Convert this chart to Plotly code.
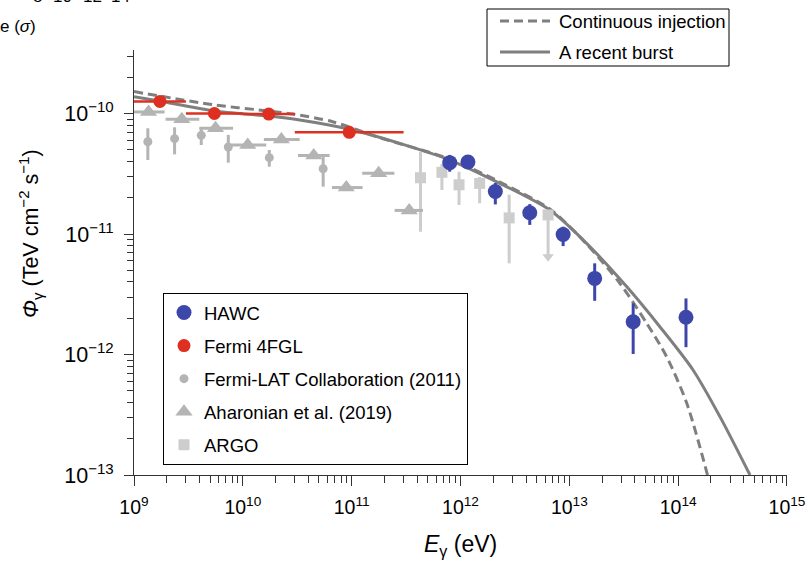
import plotly.graph_objects as go

# ---------------- data ----------------
burst_E = [1.0e9, 1.71e9, 5.46e9, 1.71e10, 3.33e10, 9.33e10, 2.96e11, 7.96e11, 2.30e12,
           6.62e12, 1.44e13, 3.36e13, 6.79e13, 1.37e14, 2.42e14, 4.57e14]
burst_F = [1.38e-10, 1.27e-10, 1.05e-10, 9.53e-11, 8.83e-11, 7.43e-11, 5.54e-11, 4.11e-11,
           2.63e-11, 1.58e-11, 8.37e-12, 3.66e-12, 1.70e-12, 7.44e-13, 3.05e-13, 1.0e-13]

cont_E = [1.0e9, 5.46e9, 1.71e10, 2.86e10, 6.68e10, 1.81e11, 7.96e11, 2.30e12, 6.62e12,
          1.44e13, 2.91e13, 5.13e13, 7.83e13, 1.20e14, 1.86e14]
cont_F = [1.52e-10, 1.18e-10, 1.05e-10, 9.91e-11, 8.55e-11, 6.30e-11, 4.19e-11, 2.70e-11,
          1.61e-11, 8.26e-12, 3.90e-12, 1.82e-12, 9.6e-13, 3.94e-13, 1.0e-13]

hawc_E = [7.96e11, 1.17e12, 2.09e12, 4.33e12, 8.77e12, 1.71e13, 3.86e13, 1.18e14]
hawc_F = [3.91e-11, 3.96e-11, 2.25e-11, 1.50e-11, 9.91e-12, 4.28e-12, 1.87e-12, 2.04e-12]
hawc_lo = [3.29e-11, 3.53e-11, 1.76e-11, 1.19e-11, 7.94e-12, 2.79e-12, 1.01e-12, 1.15e-12]
hawc_hi = [4.53e-11, 4.36e-11, 2.65e-11, 1.77e-11, 1.15e-11, 5.71e-12, 2.66e-12, 2.92e-12]

fgl_E = [1.73e9, 5.48e9, 1.73e10, 9.5e10]
fgl_Elo = [1.0e9, 3.0e9, 1.0e10, 3.0e10]
fgl_Ehi = [3.0e9, 1.0e10, 3.0e10, 3.0e11]
fgl_F = [1.26e-10, 1.00e-10, 0.99e-10, 6.98e-11]
fgl_lo = [1.20e-10, 0.95e-10, 0.94e-10, 6.6e-11]
fgl_hi = [1.32e-10, 1.05e-10, 1.04e-10, 7.4e-11]

lat_E = [1.34e9, 2.36e9, 4.15e9, 7.35e9, 1.75e10, 5.47e10]
lat_F = [5.83e-11, 6.18e-11, 6.59e-11, 5.27e-11, 4.30e-11, 3.48e-11]
lat_lo = [4.11e-11, 4.58e-11, 5.48e-11, 3.91e-11, 3.62e-11, 2.47e-11]
lat_hi = [7.54e-11, 7.68e-11, 7.54e-11, 6.64e-11, 4.98e-11, 4.38e-11]

aha_E = [1.36e9, 2.75e9, 5.61e9, 1.11e10, 2.26e10, 4.48e10, 8.93e10, 1.77e11, 3.38e11]
aha_Elo = [1.0e9, 1.95e9, 3.98e9, 7.83e9, 1.56e10, 3.21e10, 6.59e10, 1.25e11, 2.48e11]
aha_Ehi = [1.91e9, 3.98e9, 8.13e9, 1.64e10, 3.33e10, 6.27e10, 1.26e11, 2.47e11, 4.52e11]
aha_F = [1.03e-10, 8.95e-11, 7.53e-11, 5.48e-11, 6.08e-11, 4.48e-11, 2.43e-11, 3.19e-11, 1.57e-11]

argo_E = [4.29e11, 6.75e11, 9.70e11, 1.50e12, 2.80e12, 6.38e12]
argo_F = [2.93e-11, 3.25e-11, 2.56e-11, 2.63e-11, 1.36e-11, 1.44e-11]
argo_lo = [1.045e-11, 2.32e-11, 1.74e-11, 1.80e-11, 5.71e-12, 6.49e-12]
argo_hi = [4.82e-11, 3.81e-11, 3.29e-11, 2.97e-11, 2.12e-11, 1.44e-11]
argo_ul_E = [6.38e12]
argo_ul_F = [6.49e-12]

x_tick_vals = [1e9, 1e10, 1e11, 1e12, 1e13, 1e14, 1e15]
x_tick_text = ["10<sup>9</sup>", "10<sup>10</sup>", "10<sup>11</sup>", "10<sup>12</sup>",
               "10<sup>13</sup>", "10<sup>14</sup>", "10<sup>15</sup>"]
y_tick_vals = [1e-13, 1e-12, 1e-11, 1e-10]
y_tick_text = ["10<sup>−13</sup>", "10<sup>−12</sup>", "10<sup>−11</sup>", "10<sup>−10</sup>"]

curve_names = ["Continuous injection", "A recent burst"]
cut_labels = ["8", "10", "12", "14"]

# ---------------- styles ----------------
FONT = "Liberation Sans, Arial, Helvetica, sans-serif"
CURVE = "#7f7f7f"
BLUE = "#3d47a9"
RED = "#dd3020"
GRAY_LAT = "#b4b4b4"
GRAY_AHA = "#b4b4b4"
GRAY_ARGO = "#cdcdcd"
DASH = "9px,5px"


def plus(v, hi):
    return [h - a for a, h in zip(v, hi)]


def minus(v, lo):
    return [a - l for a, l in zip(v, lo)]


fig = go.Figure()

# model curves
fig.add_trace(go.Scatter(
    x=cont_E, y=cont_F, mode="lines", name=curve_names[0], showlegend=False,
    line=dict(color=CURVE, width=3, dash=DASH, shape="spline", smoothing=0.8)))
fig.add_trace(go.Scatter(
    x=burst_E, y=burst_F, mode="lines", name=curve_names[1], showlegend=False,
    line=dict(color=CURVE, width=3, shape="spline", smoothing=0.8)))

# ARGO
fig.add_trace(go.Scatter(
    x=argo_E, y=argo_F, mode="markers", name="ARGO",
    marker=dict(symbol="square", size=11, color=GRAY_ARGO),
    error_y=dict(type="data", symmetric=False, array=plus(argo_F, argo_hi),
                 arrayminus=minus(argo_F, argo_lo), color=GRAY_ARGO, thickness=3, width=0),
    legendgroup="d5", legendrank=5))
fig.add_trace(go.Scatter(
    x=argo_ul_E, y=argo_ul_F, mode="markers", showlegend=False,
    marker=dict(symbol="triangle-down", size=10, color=GRAY_ARGO)))

# Aharonian et al. (2019)
fig.add_trace(go.Scatter(
    x=aha_E, y=aha_F, mode="markers", name="Aharonian et al. (2019)",
    marker=dict(symbol="triangle-up", size=15, color=GRAY_AHA),
    error_x=dict(type="data", symmetric=False, array=plus(aha_E, aha_Ehi),
                 arrayminus=minus(aha_E, aha_Elo), color=GRAY_AHA, thickness=3, width=0),
    legendgroup="d4", legendrank=4))

# Fermi-LAT Collaboration (2011)
fig.add_trace(go.Scatter(
    x=lat_E, y=lat_F, mode="markers", name="Fermi-LAT Collaboration (2011)",
    marker=dict(symbol="circle", size=9, color=GRAY_LAT),
    error_y=dict(type="data", symmetric=False, array=plus(lat_F, lat_hi),
                 arrayminus=minus(lat_F, lat_lo), color=GRAY_LAT, thickness=3, width=0),
    legendgroup="d3", legendrank=3))

# Fermi 4FGL
fig.add_trace(go.Scatter(
    x=fgl_E, y=fgl_F, mode="markers", name="Fermi 4FGL",
    marker=dict(symbol="circle", size=13, color=RED),
    error_x=dict(type="data", symmetric=False, array=plus(fgl_E, fgl_Ehi),
                 arrayminus=minus(fgl_E, fgl_Elo), color=RED, thickness=2.5, width=0),
    error_y=dict(type="data", symmetric=False, array=plus(fgl_F, fgl_hi),
                 arrayminus=minus(fgl_F, fgl_lo), color=RED, thickness=2.5, width=0),
    legendgroup="d2", legendrank=2))

# HAWC
fig.add_trace(go.Scatter(
    x=hawc_E, y=hawc_F, mode="markers", name="HAWC",
    marker=dict(symbol="circle", size=15, color=BLUE),
    error_y=dict(type="data", symmetric=False, array=plus(hawc_F, hawc_hi),
                 arrayminus=minus(hawc_F, hawc_lo), color=BLUE, thickness=3, width=0),
    legendgroup="d1", legendrank=1))

# The page body margin is removed (post_script below), so figure px == screen px.
OFF = 0
W, H = 810 - OFF, 566 - OFF
L, R, T, B = 134 - OFF, 23, 50 - OFF, 91
pw, ph = W - L - R, H - T - B


def px(xs):
    """screen x (pixels in the photographed window) -> paper x"""
    return (xs - OFF - L) / pw


def py(ys):
    """screen y -> paper y"""
    return (H - B - (ys - OFF)) / ph


# key for the two model curves (box, line samples, labels)
shapes = [
    dict(type="rect", xref="paper", yref="paper", x0=px(487), x1=px(729), y0=py(66), y1=py(9),
         line=dict(color="black", width=1), fillcolor="white", layer="above"),
    dict(type="line", xref="paper", yref="paper", x0=px(500), x1=px(550), y0=py(21), y1=py(21),
         line=dict(color=CURVE, width=3, dash=DASH), layer="above"),
    dict(type="line", xref="paper", yref="paper", x0=px(500), x1=px(550), y0=py(52), y1=py(52),
         line=dict(color=CURVE, width=3), layer="above"),
]

annotations = [
    dict(text=curve_names[0], xref="paper", yref="paper", x=px(557), y=py(21),
         xanchor="left", yanchor="middle", showarrow=False, font=dict(size=18.5)),
    dict(text=curve_names[1], xref="paper", yref="paper", x=px(557), y=py(52),
         xanchor="left", yanchor="middle", showarrow=False, font=dict(size=18.5)),
    dict(text="<i>E</i><sub>γ</sub> (eV)", xref="paper", yref="paper",
         x=px(460), y=py(545), xanchor="center", yanchor="middle",
         showarrow=False, font=dict(size=23)),
    dict(text="<i>Φ</i><sub>γ</sub> (TeV cm<sup>−2</sup> s<sup>−1</sup>)",
         xref="paper", yref="paper", x=px(30), y=py(234), textangle=-90,
         xanchor="center", yanchor="middle",
         showarrow=False, font=dict(size=21.5)),
    dict(text="e (<i>σ</i>)", xref="paper", yref="paper", x=px(-2), y=py(27),
         xanchor="left", yanchor="middle", showarrow=False, font=dict(size=17)),
]
for lab, xx in zip(cut_labels, [37, 62, 92, 120]):
    annotations.append(dict(text=lab, xref="paper", yref="paper", x=px(xx), y=py(-3),
                            xanchor="center", yanchor="middle", showarrow=False,
                            font=dict(size=17)))

fig.update_layout(
    width=W, height=H,
    margin=dict(l=L, r=R, t=T, b=B, autoexpand=False),
    paper_bgcolor="white", plot_bgcolor="white",
    font=dict(family=FONT, size=18, color="black"),
    showlegend=True,
    legend=dict(x=px(163), y=py(293), xanchor="left", yanchor="top",
                bordercolor="black", borderwidth=1, bgcolor="white",
                font=dict(size=18.5), tracegroupgap=6, itemwidth=30,
                traceorder="grouped"),
    xaxis=dict(type="log", range=[8.9999, 15.0001], tickvals=x_tick_vals,
               ticktext=x_tick_text, ticklabelstandoff=5, ticklabeloverflow="allow",
               showgrid=False, zeroline=False, showline=True, linecolor="#333",
               linewidth=1, ticks="outside", ticklen=10, tickcolor="#333",
               tickfont=dict(size=19.5, family=FONT),
               minor=dict(ticks="outside", ticklen=7, tickcolor="#333", dtick="D1",
                          showgrid=False)),
    yaxis=dict(type="log", range=[-13, -9.473], tickvals=y_tick_vals,
               ticktext=y_tick_text, ticklabelstandoff=6,
               showgrid=False, zeroline=False, showline=True, linecolor="#333",
               linewidth=1, ticks="outside", ticklen=9, tickcolor="#333",
               tickfont=dict(size=21.5, family=FONT),
               minor=dict(ticks="outside", ticklen=6, tickcolor="#333", dtick="D1",
                          showgrid=False)),
    shapes=shapes,
    annotations=annotations,
)

fig.write_html("out.html",
               config={"displayModeBar": False},
               post_script="document.body.style.margin='0';document.body.style.overflow='hidden';")
